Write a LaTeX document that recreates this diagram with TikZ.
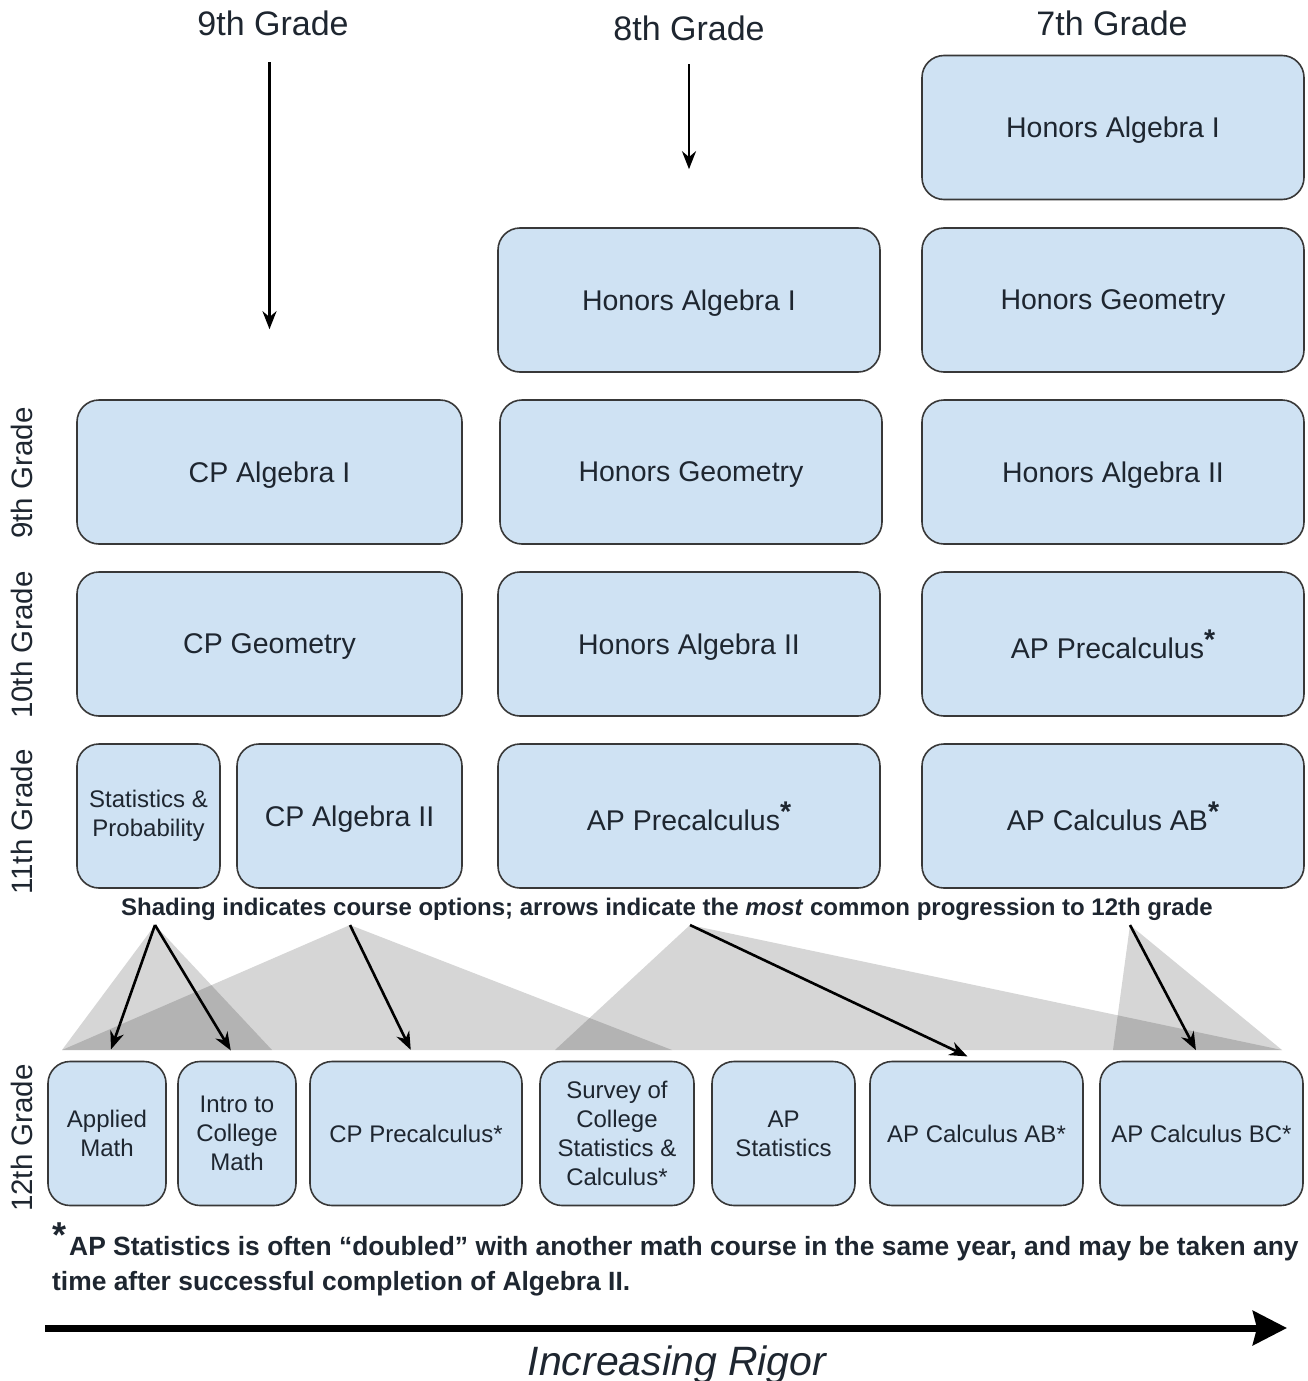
\documentclass[tikz,border=0pt]{standalone}
\usepackage{fontspec}
\setmainfont{Liberation Sans}
\usetikzlibrary{arrows.meta}
\definecolor{boxfill}{HTML}{CFE2F3}
\definecolor{boxline}{HTML}{383838}
\definecolor{boxtext}{HTML}{1E2630}
\begin{document}
\begin{tikzpicture}[x=1pt, y=-1pt,
    boxbase/.style={draw=boxline, fill=boxfill, line width=1.6pt, rounded corners=22pt,
      align=center, text=boxtext, inner sep=0pt, minimum height=144pt},
    course/.style={boxbase, text depth=0pt, font=\fontsize{28.5}{33}\selectfont},
    smallcourse/.style={boxbase, font=\fontsize{24}{29}\selectfont},
    grade/.style={font=\fontsize{34}{38}\selectfont, text=boxtext},
    rowlabel/.style={rotate=90, font=\fontsize{29.5}{33}\selectfont, text=boxtext},
    flow/.style={line width=2.6pt, -{Stealth[length=18pt,width=14pt]}},
    shade/.style={fill=black, fill opacity=0.16},
    footline/.style={anchor=base west, inner sep=0pt, font=\fontsize{26.4}{30}\selectfont\bfseries, text=boxtext}
  ]
  \useasboundingbox[fill=white] (0,0) rectangle (1307,1381);

  % column headers
  \node[grade] (h9) at (273,23) {9th Grade};
  \node[grade] (h8) at (689,28) {8th Grade};
  \node[grade] (h7) at (1112,23) {7th Grade};

  % row labels
  \node[rowlabel] (r9) at (22,473) {9th Grade};
  \node[rowlabel] (r10) at (22,645) {10th Grade};
  \node[rowlabel] (r11) at (22,822) {11th Grade};
  \node[rowlabel] (r12) at (22,1138) {12th Grade};

  % 9th grade start
  \node[course, minimum width=385pt] (cpalgi) at (269.5,472) {CP Algebra I};
  \node[course, minimum width=385pt] (cpgeo) at (269.5,644) {CP Geometry};
  \node[smallcourse, minimum width=143pt] (statprob) at (148.5,816) {Statistics \&\\Probability};
  \node[course, minimum width=225pt] (cpalgii) at (349.5,816) {CP Algebra II};

  % 8th grade start
  \node[course, minimum width=382pt] (halgi8) at (689,300) {Honors Algebra I};
  \node[course, minimum width=382pt] (hgeo8) at (691,472) {Honors Geometry};
  \node[course, minimum width=382pt] (halgii8) at (689,644) {Honors Algebra II};
  \node[course, minimum width=382pt] (apprecalc8) at (689,816) {AP Precalculus\raisebox{.3em}{\bfseries*}};

  % 7th grade start
  \node[course, minimum width=382pt] (halgi7) at (1113,127.5) {Honors Algebra I};
  \node[course, minimum width=382pt] (hgeo7) at (1113,300) {Honors Geometry};
  \node[course, minimum width=382pt] (halgii7) at (1113,472) {Honors Algebra II};
  \node[course, minimum width=382pt] (apprecalc7) at (1113,644) {AP Precalculus\raisebox{.3em}{\bfseries*}};
  \node[course, minimum width=382pt] (apcalc7) at (1113,816) {AP Calculus AB\raisebox{.3em}{\bfseries*}};

  \draw[flow, shorten <=23pt, shorten >=70pt] (cpalgi.north |- h9.south) -- (cpalgi.north);
  \draw[flow, shorten <=20pt, shorten >=58pt] (halgi8.north |- h8.south) -- (halgi8.north);

  \node[font=\fontsize{24}{28}\selectfont\bfseries, text=boxtext] (note) at (667,909)
    {Shading indicates course options; arrows indicate the \textit{most} common progression to 12th grade};

  % 12th grade options
  \node[smallcourse, minimum width=118pt] (applied) at (107,1133.5) {Applied\\Math};
  \node[smallcourse, minimum width=118pt] (intro) at (237,1133.5) {Intro to\\College\\Math};
  \node[smallcourse, minimum width=212pt] (cpprecalc) at (416,1133.5) {CP Precalculus*};
  \node[smallcourse, minimum width=154pt] (survey) at (617,1133.5) {Survey of\\College\\Statistics \&\\Calculus*};
  \node[smallcourse, minimum width=143pt] (apstat) at (783.5,1133.5) {AP\\Statistics};
  \node[smallcourse, minimum width=213pt] (apcalcab) at (976.5,1133.5) {AP Calculus AB*};
  \node[smallcourse, minimum width=203pt] (apcalcbc) at (1201.5,1133.5) {AP Calculus BC*};

  % shading
  \coordinate (s1) at (155,925);
  \coordinate (s2) at (350,925);
  \coordinate (s3) at (690,925);
  \coordinate (s4) at (1130,925);
  \fill[shade] (s1) -- (62,1050) -- (272,1050) -- cycle;
  \fill[shade] (s2) -- (62,1050) -- (672,1050) -- cycle;
  \fill[shade] (s3) -- (555,1050) -- (1282,1050) -- cycle;
  \fill[shade] (s4) -- (1113,1050) -- (1282,1050) -- cycle;

  \draw[flow, shorten >=12pt] (s1) -- (applied.north);
  \draw[flow, shorten >=12pt] (s1) -- (intro.north);
  \draw[flow, shorten >=12pt] (s2) -- (cpprecalc.north);
  \draw[flow, shorten >=10pt] (s3) -- (apcalcab.north);
  \draw[flow, shorten >=12pt] (s4) -- (apcalcbc.north);

  % footnote
  \node[footline, anchor=base east, font=\fontsize{36}{36}\selectfont\bfseries] (star) at (67,1247) {*};
  \node[footline] (foot1) at (69,1255)
    {AP Statistics is often “doubled” with another math course in the same year, and may be taken any};
  \node[footline] (foot2) at (52,1290) {time after successful completion of Algebra II.};

  % rigor axis
  \coordinate (rigorstart) at (45,1328);
  \coordinate (rigorend) at (1287,1328);
  \draw[line width=7pt, -{Stealth[length=34pt,width=34pt,inset=4pt]}] (rigorstart) -- (rigorend);
  \node[anchor=base, font=\fontsize{41}{44}\selectfont\itshape, text=boxtext] (rigor) at (677,1375) {Increasing Rigor};
\end{tikzpicture}
\end{document}
